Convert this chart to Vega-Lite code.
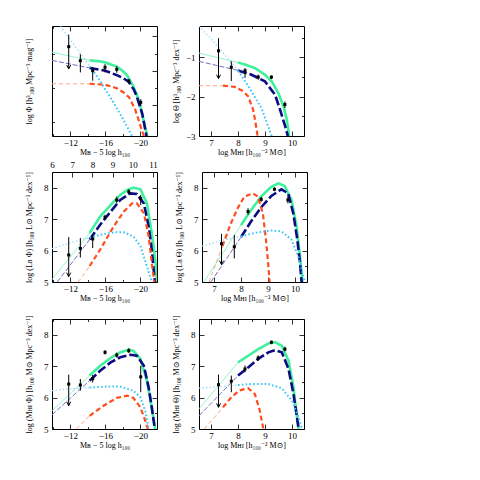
{
"$schema": "https://vega.github.io/schema/vega-lite/v6.json",
"padding": {"left": 24, "top": 25, "right": 5, "bottom": 5},
"background": "white",
"datasets": {
"curves": [
{"p":1,"s":"sum_ext","x":-9.9,"y":-1.46},{"p":1,"s":"sum_ext","x":-14.2,"y":-1.70},
{"p":1,"s":"sum","x":-14.2,"y":-1.70},{"p":1,"s":"sum","x":-15.4,"y":-1.73},{"p":1,"s":"sum","x":-16.0,"y":-1.76},{"p":1,"s":"sum","x":-17.3,"y":-1.88},{"p":1,"s":"sum","x":-18.0,"y":-2.01},{"p":1,"s":"sum","x":-18.5,"y":-2.14},{"p":1,"s":"sum","x":-19.2,"y":-2.46},{"p":1,"s":"sum","x":-19.6,"y":-2.70},{"p":1,"s":"sum","x":-20.0,"y":-3.02},{"p":1,"s":"sum","x":-20.55,"y":-3.65},{"p":1,"s":"sum","x":-20.8,"y":-3.9},
{"p":1,"s":"fit_ext","x":-9.9,"y":-1.70},{"p":1,"s":"fit_ext","x":-14.2,"y":-1.92},
{"p":1,"s":"fit","x":-14.2,"y":-1.92},{"p":1,"s":"fit","x":-16.0,"y":-2.0},{"p":1,"s":"fit","x":-17.3,"y":-2.13},{"p":1,"s":"fit","x":-18.0,"y":-2.21},{"p":1,"s":"fit","x":-18.7,"y":-2.33},{"p":1,"s":"fit","x":-19.25,"y":-2.55},{"p":1,"s":"fit","x":-19.6,"y":-2.76},{"p":1,"s":"fit","x":-20.2,"y":-3.24},{"p":1,"s":"fit","x":-20.7,"y":-3.9},
{"p":1,"s":"peaked_ext","x":-9.9,"y":-2.38},{"p":1,"s":"peaked_ext","x":-14.2,"y":-2.38},
{"p":1,"s":"peaked","x":-14.2,"y":-2.38},{"p":1,"s":"peaked","x":-16.0,"y":-2.41},{"p":1,"s":"peaked","x":-17.3,"y":-2.51},{"p":1,"s":"peaked","x":-18.0,"y":-2.62},{"p":1,"s":"peaked","x":-18.7,"y":-2.77},{"p":1,"s":"peaked","x":-19.4,"y":-3.12},{"p":1,"s":"peaked","x":-20.0,"y":-3.6},{"p":1,"s":"peaked","x":-20.4,"y":-3.9},
{"p":1,"s":"flat_ext","x":-10.86,"y":-0.71},{"p":1,"s":"flat_ext","x":-12.0,"y":-1.1},{"p":1,"s":"flat_ext","x":-13.5,"y":-1.62},{"p":1,"s":"flat_ext","x":-14.2,"y":-1.87},
{"p":1,"s":"flat","x":-14.2,"y":-1.87},{"p":1,"s":"flat","x":-15.0,"y":-2.15},{"p":1,"s":"flat","x":-16.0,"y":-2.55},{"p":1,"s":"flat","x":-16.8,"y":-2.87},{"p":1,"s":"flat","x":-18.0,"y":-3.4},{"p":1,"s":"flat","x":-19.05,"y":-3.9},

{"p":2,"s":"sum_ext","x":6.55,"y":-0.89},{"p":2,"s":"sum_ext","x":8.0,"y":-1.13},
{"p":2,"s":"sum","x":8.0,"y":-1.13},{"p":2,"s":"sum","x":8.3,"y":-1.19},{"p":2,"s":"sum","x":8.625,"y":-1.27},{"p":2,"s":"sum","x":9.0,"y":-1.44},{"p":2,"s":"sum","x":9.25,"y":-1.61},{"p":2,"s":"sum","x":9.5,"y":-1.91},{"p":2,"s":"sum","x":9.69,"y":-2.25},{"p":2,"s":"sum","x":9.81,"y":-2.58},{"p":2,"s":"sum","x":9.9,"y":-3.0},
{"p":2,"s":"fit_ext","x":6.55,"y":-1.10},{"p":2,"s":"fit_ext","x":8.0,"y":-1.33},
{"p":2,"s":"fit","x":8.0,"y":-1.33},{"p":2,"s":"fit","x":8.5,"y":-1.44},{"p":2,"s":"fit","x":9.0,"y":-1.61},{"p":2,"s":"fit","x":9.375,"y":-1.95},{"p":2,"s":"fit","x":9.56,"y":-2.33},{"p":2,"s":"fit","x":9.75,"y":-2.75},{"p":2,"s":"fit","x":9.85,"y":-3.0},
{"p":2,"s":"peaked_ext","x":6.55,"y":-1.72},{"p":2,"s":"peaked_ext","x":7.44,"y":-1.72},
{"p":2,"s":"peaked","x":7.44,"y":-1.72},{"p":2,"s":"peaked","x":7.875,"y":-1.75},{"p":2,"s":"peaked","x":8.19,"y":-1.86},{"p":2,"s":"peaked","x":8.375,"y":-1.99},{"p":2,"s":"peaked","x":8.56,"y":-2.33},{"p":2,"s":"peaked","x":8.65,"y":-2.66},{"p":2,"s":"peaked","x":8.725,"y":-3.0},
{"p":2,"s":"flat_ext","x":6.55,"y":-0.2},{"p":2,"s":"flat_ext","x":7.25,"y":-0.72},{"p":2,"s":"flat_ext","x":7.875,"y":-1.23},{"p":2,"s":"flat_ext","x":8.0,"y":-1.34},
{"p":2,"s":"flat","x":8.0,"y":-1.34},{"p":2,"s":"flat","x":8.375,"y":-1.72},{"p":2,"s":"flat","x":8.875,"y":-2.30},{"p":2,"s":"flat","x":9.25,"y":-3.0},

{"p":3,"s":"sum_ext","x":-9.9,"y":5.08},{"p":3,"s":"sum_ext","x":-14.2,"y":6.56},
{"p":3,"s":"sum","x":-14.2,"y":6.56},{"p":3,"s":"sum","x":-15.4,"y":7.08},{"p":3,"s":"sum","x":-16.6,"y":7.45},{"p":3,"s":"sum","x":-17.7,"y":7.77},{"p":3,"s":"sum","x":-18.5,"y":7.93},{"p":3,"s":"sum","x":-19.2,"y":8.0},{"p":3,"s":"sum","x":-20.0,"y":7.95},{"p":3,"s":"sum","x":-20.75,"y":7.5},{"p":3,"s":"sum","x":-21.3,"y":6.56},{"p":3,"s":"sum","x":-21.7,"y":5.72},{"p":3,"s":"sum","x":-21.9,"y":5.0},
{"p":3,"s":"fit_ext","x":-10.5,"y":5.0},{"p":3,"s":"fit_ext","x":-14.2,"y":6.35},
{"p":3,"s":"fit","x":-14.2,"y":6.35},{"p":3,"s":"fit","x":-15.4,"y":6.82},{"p":3,"s":"fit","x":-16.6,"y":7.24},{"p":3,"s":"fit","x":-17.7,"y":7.61},{"p":3,"s":"fit","x":-18.85,"y":7.82},{"p":3,"s":"fit","x":-19.6,"y":7.80},{"p":3,"s":"fit","x":-20.4,"y":7.5},{"p":3,"s":"fit","x":-20.95,"y":6.77},{"p":3,"s":"fit","x":-21.3,"y":6.03},{"p":3,"s":"fit","x":-21.65,"y":5.0},
{"p":3,"s":"peaked_ext","x":-12.9,"y":5.0},{"p":3,"s":"peaked_ext","x":-14.2,"y":5.51},
{"p":3,"s":"peaked","x":-14.2,"y":5.51},{"p":3,"s":"peaked","x":-15.4,"y":6.03},{"p":3,"s":"peaked","x":-16.95,"y":6.77},{"p":3,"s":"peaked","x":-18.1,"y":7.24},{"p":3,"s":"peaked","x":-19.05,"y":7.5},{"p":3,"s":"peaked","x":-19.6,"y":7.5},{"p":3,"s":"peaked","x":-20.4,"y":7.19},{"p":3,"s":"peaked","x":-20.95,"y":6.45},{"p":3,"s":"peaked","x":-21.3,"y":5.61},{"p":3,"s":"peaked","x":-21.6,"y":5.0},
{"p":3,"s":"flat_ext","x":-9.9,"y":6.06},{"p":3,"s":"flat_ext","x":-11.6,"y":6.21},{"p":3,"s":"flat_ext","x":-13.5,"y":6.37},{"p":3,"s":"flat_ext","x":-14.2,"y":6.41},
{"p":3,"s":"flat","x":-14.2,"y":6.41},{"p":3,"s":"flat","x":-15.4,"y":6.5},{"p":3,"s":"flat","x":-16.95,"y":6.58},{"p":3,"s":"flat","x":-18.1,"y":6.58},{"p":3,"s":"flat","x":-19.2,"y":6.45},{"p":3,"s":"flat","x":-20.0,"y":6.14},{"p":3,"s":"flat","x":-20.75,"y":5.5},{"p":3,"s":"flat","x":-21.3,"y":5.0},

{"p":4,"s":"sum_ext","x":6.62,"y":5.0},{"p":4,"s":"sum_ext","x":8.0,"y":6.81},
{"p":4,"s":"sum","x":8.0,"y":6.81},{"p":4,"s":"sum","x":8.375,"y":7.29},{"p":4,"s":"sum","x":8.75,"y":7.72},{"p":4,"s":"sum","x":9.125,"y":8.03},{"p":4,"s":"sum","x":9.4,"y":8.14},{"p":4,"s":"sum","x":9.625,"y":8.05},{"p":4,"s":"sum","x":9.875,"y":7.61},{"p":4,"s":"sum","x":10.06,"y":6.77},{"p":4,"s":"sum","x":10.19,"y":5.82},{"p":4,"s":"sum","x":10.28,"y":5.0},
{"p":4,"s":"fit_ext","x":6.88,"y":5.0},{"p":4,"s":"fit_ext","x":8.0,"y":6.43},
{"p":4,"s":"fit","x":8.0,"y":6.43},{"p":4,"s":"fit","x":8.375,"y":6.93},{"p":4,"s":"fit","x":8.75,"y":7.38},{"p":4,"s":"fit","x":9.125,"y":7.74},{"p":4,"s":"fit","x":9.5,"y":7.95},{"p":4,"s":"fit","x":9.75,"y":7.82},{"p":4,"s":"fit","x":9.94,"y":7.19},{"p":4,"s":"fit","x":10.09,"y":6.35},{"p":4,"s":"fit","x":10.19,"y":5.61},{"p":4,"s":"fit","x":10.25,"y":5.0},
{"p":4,"s":"peaked_ext","x":6.81,"y":5.0},{"p":4,"s":"peaked_ext","x":7.31,"y":6.14},
{"p":4,"s":"peaked","x":7.31,"y":6.14},{"p":4,"s":"peaked","x":7.625,"y":6.87},{"p":4,"s":"peaked","x":7.875,"y":7.35},{"p":4,"s":"peaked","x":8.125,"y":7.72},{"p":4,"s":"peaked","x":8.44,"y":7.82},{"p":4,"s":"peaked","x":8.625,"y":7.72},{"p":4,"s":"peaked","x":8.81,"y":7.19},{"p":4,"s":"peaked","x":8.94,"y":6.24},{"p":4,"s":"peaked","x":9.025,"y":5.4},{"p":4,"s":"peaked","x":9.06,"y":5.0},
{"p":4,"s":"flat_ext","x":6.55,"y":6.14},{"p":4,"s":"flat_ext","x":7.25,"y":6.32},{"p":4,"s":"flat_ext","x":7.875,"y":6.43},{"p":4,"s":"flat_ext","x":8.0,"y":6.45},
{"p":4,"s":"flat","x":8.0,"y":6.45},{"p":4,"s":"flat","x":8.5,"y":6.56},{"p":4,"s":"flat","x":9.125,"y":6.64},{"p":4,"s":"flat","x":9.5,"y":6.61},{"p":4,"s":"flat","x":9.875,"y":6.35},{"p":4,"s":"flat","x":10.125,"y":5.82},{"p":4,"s":"flat","x":10.31,"y":5.19},{"p":4,"s":"flat","x":10.375,"y":5.0},

{"p":5,"s":"sum_ext","x":-9.9,"y":5.58},{"p":5,"s":"sum_ext","x":-14.2,"y":6.70},
{"p":5,"s":"sum","x":-14.2,"y":6.70},{"p":5,"s":"sum","x":-15.4,"y":7.01},{"p":5,"s":"sum","x":-16.6,"y":7.26},{"p":5,"s":"sum","x":-17.7,"y":7.44},{"p":5,"s":"sum","x":-18.7,"y":7.52},{"p":5,"s":"sum","x":-19.2,"y":7.49},{"p":5,"s":"sum","x":-20.0,"y":7.23},{"p":5,"s":"sum","x":-20.75,"y":6.54},{"p":5,"s":"sum","x":-21.3,"y":5.69},{"p":5,"s":"sum","x":-21.7,"y":5.0},
{"p":5,"s":"fit_ext","x":-9.9,"y":5.45},{"p":5,"s":"fit_ext","x":-14.2,"y":6.54},
{"p":5,"s":"fit","x":-14.2,"y":6.54},{"p":5,"s":"fit","x":-15.4,"y":6.85},{"p":5,"s":"fit","x":-16.6,"y":7.12},{"p":5,"s":"fit","x":-17.7,"y":7.28},{"p":5,"s":"fit","x":-18.85,"y":7.36},{"p":5,"s":"fit","x":-19.6,"y":7.33},{"p":5,"s":"fit","x":-20.4,"y":7.01},{"p":5,"s":"fit","x":-20.95,"y":6.32},{"p":5,"s":"fit","x":-21.3,"y":5.69},{"p":5,"s":"fit","x":-21.65,"y":5.0},
{"p":5,"s":"peaked_ext","x":-12.7,"y":5.0},{"p":5,"s":"peaked_ext","x":-14.2,"y":5.42},
{"p":5,"s":"peaked","x":-14.2,"y":5.42},{"p":5,"s":"peaked","x":-15.8,"y":5.74},{"p":5,"s":"peaked","x":-17.3,"y":5.99},{"p":5,"s":"peaked","x":-18.5,"y":6.06},{"p":5,"s":"peaked","x":-19.2,"y":5.99},{"p":5,"s":"peaked","x":-20.0,"y":5.69},{"p":5,"s":"peaked","x":-20.55,"y":5.27},{"p":5,"s":"peaked","x":-20.85,"y":5.0},
{"p":5,"s":"flat_ext","x":-9.9,"y":6.22},{"p":5,"s":"flat_ext","x":-11.6,"y":6.27},{"p":5,"s":"flat_ext","x":-14.2,"y":6.32},
{"p":5,"s":"flat","x":-14.2,"y":6.32},{"p":5,"s":"flat","x":-16.2,"y":6.35},{"p":5,"s":"flat","x":-17.7,"y":6.35},{"p":5,"s":"flat","x":-19.2,"y":6.22},{"p":5,"s":"flat","x":-20.0,"y":6.01},{"p":5,"s":"flat","x":-20.55,"y":5.58},{"p":5,"s":"flat","x":-20.95,"y":5.0},

{"p":6,"s":"sum_ext","x":6.55,"y":5.64},{"p":6,"s":"sum_ext","x":8.0,"y":7.12},
{"p":6,"s":"sum","x":8.0,"y":7.12},{"p":6,"s":"sum","x":8.375,"y":7.33},{"p":6,"s":"sum","x":8.75,"y":7.54},{"p":6,"s":"sum","x":9.125,"y":7.72},{"p":6,"s":"sum","x":9.375,"y":7.76},{"p":6,"s":"sum","x":9.625,"y":7.65},{"p":6,"s":"sum","x":9.875,"y":7.17},{"p":6,"s":"sum","x":10.06,"y":6.32},{"p":6,"s":"sum","x":10.16,"y":5.58},{"p":6,"s":"sum","x":10.25,"y":5.0},
{"p":6,"s":"fit_ext","x":6.55,"y":5.42},{"p":6,"s":"fit_ext","x":8.0,"y":6.70},
{"p":6,"s":"fit","x":8.0,"y":6.70},{"p":6,"s":"fit","x":8.375,"y":6.96},{"p":6,"s":"fit","x":8.75,"y":7.23},{"p":6,"s":"fit","x":9.125,"y":7.44},{"p":6,"s":"fit","x":9.375,"y":7.51},{"p":6,"s":"fit","x":9.625,"y":7.44},{"p":6,"s":"fit","x":9.875,"y":6.91},{"p":6,"s":"fit","x":10.06,"y":6.11},{"p":6,"s":"fit","x":10.19,"y":5.37},{"p":6,"s":"fit","x":10.25,"y":5.0},
{"p":6,"s":"peaked_ext","x":6.75,"y":5.0},{"p":6,"s":"peaked_ext","x":7.44,"y":5.69},
{"p":6,"s":"peaked","x":7.44,"y":5.69},{"p":6,"s":"peaked","x":7.75,"y":6.01},{"p":6,"s":"peaked","x":8.06,"y":6.23},{"p":6,"s":"peaked","x":8.375,"y":6.30},{"p":6,"s":"peaked","x":8.625,"y":6.11},{"p":6,"s":"peaked","x":8.81,"y":5.58},{"p":6,"s":"peaked","x":8.94,"y":5.0},
{"p":6,"s":"flat_ext","x":6.55,"y":6.30},{"p":6,"s":"flat_ext","x":7.25,"y":6.34},{"p":6,"s":"flat_ext","x":8.0,"y":6.40},
{"p":6,"s":"flat","x":8.0,"y":6.40},{"p":6,"s":"flat","x":8.5,"y":6.43},{"p":6,"s":"flat","x":9.125,"y":6.43},{"p":6,"s":"flat","x":9.625,"y":6.30},{"p":6,"s":"flat","x":10.0,"y":5.90},{"p":6,"s":"flat","x":10.25,"y":5.37},{"p":6,"s":"flat","x":10.375,"y":5.0}
],
"points": [
{"p":1,"x":-11.81,"y":-1.30,"lo":-1.95,"hi":-0.95,"ul":true},
{"p":1,"x":-13.14,"y":-1.71,"lo":-2.05,"hi":-1.52,"ul":false},
{"p":1,"x":-14.55,"y":-2.0,"lo":-2.29,"hi":-1.89,"ul":false},
{"p":1,"x":-15.96,"y":-1.90,"lo":-2.05,"hi":-1.81,"ul":false},
{"p":1,"x":-17.30,"y":-1.96,"lo":-2.06,"hi":-1.87,"ul":false},
{"p":1,"x":-18.67,"y":-2.30,"lo":-2.38,"hi":-2.24,"ul":false},
{"p":1,"x":-20.04,"y":-2.92,"lo":-3.02,"hi":-2.83,"ul":false},
{"p":2,"x":7.275,"y":-0.83,"lo":-1.54,"hi":-0.51,"ul":true},
{"p":2,"x":7.75,"y":-1.25,"lo":-1.60,"hi":-1.10,"ul":false},
{"p":2,"x":8.26,"y":-1.34,"lo":-1.52,"hi":-1.27,"ul":false},
{"p":2,"x":8.75,"y":-1.50,"lo":-1.57,"hi":-1.44,"ul":false},
{"p":2,"x":9.24,"y":-1.50,"lo":-1.55,"hi":-1.46,"ul":false},
{"p":2,"x":9.74,"y":-2.20,"lo":-2.29,"hi":-2.12,"ul":false},
{"p":3,"x":-11.81,"y":5.86,"lo":5.17,"hi":6.43,"ul":true},
{"p":3,"x":-13.14,"y":6.07,"lo":5.78,"hi":6.40,"ul":false},
{"p":3,"x":-14.55,"y":6.37,"lo":6.08,"hi":6.51,"ul":false},
{"p":3,"x":-15.96,"y":7.06,"lo":6.99,"hi":7.14,"ul":false},
{"p":3,"x":-17.30,"y":7.61,"lo":7.50,"hi":7.72,"ul":false},
{"p":3,"x":-18.67,"y":7.87,"lo":7.79,"hi":7.95,"ul":false},
{"p":3,"x":-20.04,"y":7.65,"lo":7.45,"hi":7.77,"ul":false},
{"p":4,"x":7.275,"y":6.22,"lo":5.55,"hi":6.53,"ul":true},
{"p":4,"x":7.75,"y":6.12,"lo":5.75,"hi":6.50,"ul":false},
{"p":4,"x":8.26,"y":7.24,"lo":7.14,"hi":7.35,"ul":false},
{"p":4,"x":8.75,"y":7.63,"lo":7.56,"hi":7.71,"ul":false},
{"p":4,"x":9.24,"y":7.95,"lo":7.89,"hi":8.01,"ul":false},
{"p":4,"x":9.74,"y":7.61,"lo":7.50,"hi":7.72,"ul":false},
{"p":5,"x":-11.81,"y":6.43,"lo":5.74,"hi":6.73,"ul":true},
{"p":5,"x":-13.14,"y":6.40,"lo":6.22,"hi":6.59,"ul":false},
{"p":5,"x":-14.55,"y":6.60,"lo":6.48,"hi":6.72,"ul":false},
{"p":5,"x":-15.96,"y":7.44,"lo":7.37,"hi":7.51,"ul":false},
{"p":5,"x":-17.30,"y":7.35,"lo":7.27,"hi":7.43,"ul":false},
{"p":5,"x":-18.67,"y":7.49,"lo":7.42,"hi":7.57,"ul":false},
{"p":5,"x":-20.04,"y":6.66,"lo":6.17,"hi":7.01,"ul":false},
{"p":6,"x":7.275,"y":6.41,"lo":5.69,"hi":6.73,"ul":true},
{"p":6,"x":7.75,"y":6.52,"lo":6.17,"hi":6.70,"ul":false},
{"p":6,"x":8.26,"y":6.91,"lo":6.81,"hi":7.02,"ul":false},
{"p":6,"x":8.75,"y":7.26,"lo":7.17,"hi":7.34,"ul":false},
{"p":6,"x":9.24,"y":7.76,"lo":7.70,"hi":7.81,"ul":false},
{"p":6,"x":9.74,"y":7.54,"lo":7.47,"hi":7.62,"ul":false}
],
"lumaxis": [{"logL": 6}, {"logL": 11.2}]
},
"spacing": 11,
"vconcat": [
{"spacing": 3, "vconcat": [
{"hconcat": [
{"width":105,"height":110,
 "layer":[
  {"data":{"name":"curves"},"transform":[{"filter":"datum.p === 1"}],"mark":{"type":"line","clip":true,"strokeCap":"butt"},
   "encoding":{
    "x":{"field":"x","type":"quantitative","scale":{"domain":[-21.9,-9.9],"reverse":true,"nice":false,"zero":false},"axis":{"orient":"bottom","title":"Mʙ − 5 log h₁₀₀","values":[-20,-18,-16,-14,-12,-10],"format":"d","labelExpr":"datum.value % 4 === 0 ? datum.label : ''","tickSize":{"condition":{"test":"datum.value % 4 === 0","value":-5},"value":-2.5}}},
    "y":{"field":"y","type":"quantitative","scale":{"domain":[-3.9,-0.7],"nice":false,"zero":false},"axis":{"orient":"left","title":"log Φ [h³₁₀₀ Mpc⁻³ mag⁻¹]","values":[-3.5,-3,-2.5,-2,-1.5,-1],"format":"d","labelExpr":"datum.value % 1 === 0 ? datum.label : ''","tickSize":{"condition":{"test":"datum.value % 1 === 0","value":-5},"value":-2.5}}},
    "color":{"field":"s","type":"nominal","legend":null,"scale":{"domain":["sum","sum_ext","fit","fit_ext","peaked","peaked_ext","flat","flat_ext"],"range":["#3ff09c","#86f2c4","#0b0b84","#7070c8","#ff4d1f","#ffa385","#38c6f7","#8fd8fa"]}},
    "strokeDash":{"field":"s","type":"nominal","legend":null,"scale":{"domain":["sum","sum_ext","fit","fit_ext","peaked","peaked_ext","flat","flat_ext"],"range":[[1,0],[1,0],[9,3],[5,2],[5,3],[4,3],[1.6,2.2],[1.4,2.2]]}},
    "strokeWidth":{"field":"s","type":"nominal","legend":null,"scale":{"type":"ordinal","domain":["sum","sum_ext","fit","fit_ext","peaked","peaked_ext","flat","flat_ext"],"range":[2.6,1,2.6,1,2.2,1,2,1.2]}}
   }},
  {"data":{"name":"points"},"transform":[{"filter":"datum.p === 1"}],"mark":{"type":"rule","color":"#000","strokeWidth":1,"clip":true},
   "encoding":{"x":{"field":"x","type":"quantitative","axis":null},"y":{"field":"lo","type":"quantitative","axis":null},"y2":{"field":"hi"}}},
  {"data":{"name":"points"},"transform":[{"filter":"datum.p === 1"}],"mark":{"type":"point","shape":"square","filled":true,"color":"#000","size":9,"opacity":1,"clip":true},
   "encoding":{"x":{"field":"x","type":"quantitative","axis":null},"y":{"field":"y","type":"quantitative","axis":null}}},
  {"data":{"name":"points"},"transform":[{"filter":"datum.p === 1 && datum.ul"}],"mark":{"type":"point","shape":"M-1,-2L0,0L1,-2","filled":false,"color":"#000","strokeWidth":1,"size":16,"opacity":1},
   "encoding":{"x":{"field":"x","type":"quantitative","axis":null},"y":{"field":"lo","type":"quantitative","axis":null}}},
  {"data":{"name":"points"},"transform":[{"filter":"datum.p === 1"}],"mark":{"type":"point","opacity":0},
   "encoding":{"x":{"field":"x","type":"quantitative","axis":{"orient":"top","title":null,"labels":false,"minExtent":0,"maxExtent":0,"values":[-20,-18,-16,-14,-12,-10],"tickSize":{"condition":{"test":"datum.value % 4 === 0","value":-5},"value":-2.5}}},
    "y":{"field":"y","type":"quantitative","axis":{"orient":"right","title":null,"labels":false,"minExtent":0,"maxExtent":0,"values":[-3.5,-3,-2.5,-2,-1.5,-1],"tickSize":{"condition":{"test":"datum.value % 1 === 0","value":-5},"value":-2.5}}}}}
 ],
 "resolve":{"axis":{"x":"independent","y":"independent"}}},
{"width":105,"height":110,
 "layer":[
  {"data":{"name":"curves"},"transform":[{"filter":"datum.p === 2"}],"mark":{"type":"line","clip":true,"strokeCap":"butt"},
   "encoding":{
    "x":{"field":"x","type":"quantitative","scale":{"domain":[6.55,10.45],"nice":false,"zero":false},"axis":{"orient":"bottom","title":"log Mʜɪ [h₁₀₀⁻² M⊙]","values":[7,7.5,8,8.5,9,9.5,10],"format":"d","labelExpr":"datum.value % 1 === 0 ? datum.label : ''","tickSize":{"condition":{"test":"datum.value % 1 === 0","value":-5},"value":-2.5}}},
    "y":{"field":"y","type":"quantitative","scale":{"domain":[-3,-0.2],"nice":false,"zero":false},"axis":{"orient":"left","title":"log Θ [h³₁₀₀ Mpc⁻³ dex⁻¹]","values":[-3,-2.5,-2,-1.5,-1,-0.5],"format":"d","labelExpr":"datum.value % 1 === 0 ? datum.label : ''","tickSize":{"condition":{"test":"datum.value % 1 === 0","value":-5},"value":-2.5}}},
    "color":{"field":"s","type":"nominal","legend":null,"scale":{"domain":["sum","sum_ext","fit","fit_ext","peaked","peaked_ext","flat","flat_ext"],"range":["#3ff09c","#86f2c4","#0b0b84","#7070c8","#ff4d1f","#ffa385","#38c6f7","#8fd8fa"]}},
    "strokeDash":{"field":"s","type":"nominal","legend":null,"scale":{"domain":["sum","sum_ext","fit","fit_ext","peaked","peaked_ext","flat","flat_ext"],"range":[[1,0],[1,0],[9,3],[5,2],[5,3],[4,3],[1.6,2.2],[1.4,2.2]]}},
    "strokeWidth":{"field":"s","type":"nominal","legend":null,"scale":{"type":"ordinal","domain":["sum","sum_ext","fit","fit_ext","peaked","peaked_ext","flat","flat_ext"],"range":[2.6,1,2.6,1,2.2,1,2,1.2]}}
   }},
  {"data":{"name":"points"},"transform":[{"filter":"datum.p === 2"}],"mark":{"type":"rule","color":"#000","strokeWidth":1,"clip":true},
   "encoding":{"x":{"field":"x","type":"quantitative","axis":null},"y":{"field":"lo","type":"quantitative","axis":null},"y2":{"field":"hi"}}},
  {"data":{"name":"points"},"transform":[{"filter":"datum.p === 2"}],"mark":{"type":"point","shape":"square","filled":true,"color":"#000","size":9,"opacity":1,"clip":true},
   "encoding":{"x":{"field":"x","type":"quantitative","axis":null},"y":{"field":"y","type":"quantitative","axis":null}}},
  {"data":{"name":"points"},"transform":[{"filter":"datum.p === 2 && datum.ul"}],"mark":{"type":"point","shape":"M-1,-2L0,0L1,-2","filled":false,"color":"#000","strokeWidth":1,"size":16,"opacity":1},
   "encoding":{"x":{"field":"x","type":"quantitative","axis":null},"y":{"field":"lo","type":"quantitative","axis":null}}},
  {"data":{"name":"points"},"transform":[{"filter":"datum.p === 2"}],"mark":{"type":"point","opacity":0},
   "encoding":{"x":{"field":"x","type":"quantitative","axis":{"orient":"top","title":null,"labels":false,"minExtent":0,"maxExtent":0,"values":[7,7.5,8,8.5,9,9.5,10],"tickSize":{"condition":{"test":"datum.value % 1 === 0","value":-5},"value":-2.5}}},
    "y":{"field":"y","type":"quantitative","axis":{"orient":"right","title":null,"labels":false,"minExtent":0,"maxExtent":0,"values":[-3,-2.5,-2,-1.5,-1,-0.5],"tickSize":{"condition":{"test":"datum.value % 1 === 0","value":-5},"value":-2.5}}}}}
 ],
 "resolve":{"axis":{"x":"independent","y":"independent"}}}
], "spacing": 13},
{"hconcat": [
{"width":105,"height":110,
 "layer":[
  {"layer":[
   {"data":{"name":"curves"},"transform":[{"filter":"datum.p === 3"}],"mark":{"type":"line","clip":true,"strokeCap":"butt"},
    "encoding":{
     "x":{"field":"x","type":"quantitative","scale":{"domain":[-21.9,-9.9],"reverse":true,"nice":false,"zero":false},"axis":{"orient":"bottom","title":"Mʙ − 5 log h₁₀₀","values":[-20,-18,-16,-14,-12,-10],"format":"d","labelExpr":"datum.value % 4 === 0 ? datum.label : ''","tickSize":{"condition":{"test":"datum.value % 4 === 0","value":-5},"value":-2.5}}},
     "y":{"field":"y","type":"quantitative","scale":{"domain":[5,8.5],"nice":false,"zero":false},"axis":{"orient":"left","title":"log (Lʙ Φ) [h₁₀₀ L⊙ Mpc⁻³ dex⁻¹]","values":[5,5.5,6,6.5,7,7.5,8,8.5],"format":"d","labelExpr":"datum.value % 1 === 0 ? datum.label : ''","tickSize":{"condition":{"test":"datum.value % 1 === 0","value":-5},"value":-2.5}}},
     "color":{"field":"s","type":"nominal","legend":null,"scale":{"domain":["sum","sum_ext","fit","fit_ext","peaked","peaked_ext","flat","flat_ext"],"range":["#3ff09c","#86f2c4","#0b0b84","#7070c8","#ff4d1f","#ffa385","#38c6f7","#8fd8fa"]}},
     "strokeDash":{"field":"s","type":"nominal","legend":null,"scale":{"domain":["sum","sum_ext","fit","fit_ext","peaked","peaked_ext","flat","flat_ext"],"range":[[1,0],[1,0],[9,3],[5,2],[5,3],[4,3],[1.6,2.2],[1.4,2.2]]}},
     "strokeWidth":{"field":"s","type":"nominal","legend":null,"scale":{"type":"ordinal","domain":["sum","sum_ext","fit","fit_ext","peaked","peaked_ext","flat","flat_ext"],"range":[2.6,1,2.6,1,2.2,1,2,1.2]}}
    }},
   {"data":{"name":"points"},"transform":[{"filter":"datum.p === 3"}],"mark":{"type":"rule","color":"#000","strokeWidth":1,"clip":true},
    "encoding":{"x":{"field":"x","type":"quantitative","axis":null},"y":{"field":"lo","type":"quantitative","axis":null},"y2":{"field":"hi"}}},
   {"data":{"name":"points"},"transform":[{"filter":"datum.p === 3"}],"mark":{"type":"point","shape":"square","filled":true,"color":"#000","size":9,"opacity":1,"clip":true},
    "encoding":{"x":{"field":"x","type":"quantitative","axis":null},"y":{"field":"y","type":"quantitative","axis":null}}},
   {"data":{"name":"points"},"transform":[{"filter":"datum.p === 3 && datum.ul"}],"mark":{"type":"point","shape":"M-1,-2L0,0L1,-2","filled":false,"color":"#000","strokeWidth":1,"size":16,"opacity":1},
    "encoding":{"x":{"field":"x","type":"quantitative","axis":null},"y":{"field":"lo","type":"quantitative","axis":null}}},
   {"data":{"name":"points"},"transform":[{"filter":"datum.p === 3"}],"mark":{"type":"point","opacity":0},
    "encoding":{"x":{"field":"x","type":"quantitative","axis":null},
     "y":{"field":"y","type":"quantitative","axis":{"orient":"right","title":null,"labels":false,"minExtent":0,"maxExtent":0,"values":[5,5.5,6,6.5,7,7.5,8,8.5],"tickSize":{"condition":{"test":"datum.value % 1 === 0","value":-5},"value":-2.5}}}}}
  ],
  "resolve":{"axis":{"x":"independent","y":"independent"}}},
  {"data":{"name":"lumaxis"},"mark":{"type":"point","opacity":0},
   "encoding":{"x":{"field":"logL","type":"quantitative","scale":{"domain":[6,11.2],"nice":false,"zero":false},"axis":{"orient":"top","title":null,"values":[6,6.5,7,7.5,8,8.5,9,9.5,10,10.5,11],"format":"d","labelExpr":"datum.value % 1 === 0 ? datum.label : ''","tickSize":{"condition":{"test":"datum.value % 1 === 0","value":-5},"value":-2.5}}}}}
 ],
 "resolve":{"scale":{"x":"independent"},"axis":{"x":"independent","y":"independent"}}},
{"width":105,"height":110,
 "layer":[
  {"data":{"name":"curves"},"transform":[{"filter":"datum.p === 4"}],"mark":{"type":"line","clip":true,"strokeCap":"butt"},
   "encoding":{
    "x":{"field":"x","type":"quantitative","scale":{"domain":[6.55,10.45],"nice":false,"zero":false},"axis":{"orient":"bottom","title":"log Mʜɪ [h₁₀₀⁻² M⊙]","values":[7,7.5,8,8.5,9,9.5,10],"format":"d","labelExpr":"datum.value % 1 === 0 ? datum.label : ''","tickSize":{"condition":{"test":"datum.value % 1 === 0","value":-5},"value":-2.5}}},
    "y":{"field":"y","type":"quantitative","scale":{"domain":[5,8.5],"nice":false,"zero":false},"axis":{"orient":"left","title":"log (Lʙ Θ) [h₁₀₀ L⊙ Mpc⁻³ dex⁻¹]","values":[5,5.5,6,6.5,7,7.5,8,8.5],"format":"d","labelExpr":"datum.value % 1 === 0 ? datum.label : ''","tickSize":{"condition":{"test":"datum.value % 1 === 0","value":-5},"value":-2.5}}},
    "color":{"field":"s","type":"nominal","legend":null,"scale":{"domain":["sum","sum_ext","fit","fit_ext","peaked","peaked_ext","flat","flat_ext"],"range":["#3ff09c","#86f2c4","#0b0b84","#7070c8","#ff4d1f","#ffa385","#38c6f7","#8fd8fa"]}},
    "strokeDash":{"field":"s","type":"nominal","legend":null,"scale":{"domain":["sum","sum_ext","fit","fit_ext","peaked","peaked_ext","flat","flat_ext"],"range":[[1,0],[1,0],[9,3],[5,2],[5,3],[4,3],[1.6,2.2],[1.4,2.2]]}},
    "strokeWidth":{"field":"s","type":"nominal","legend":null,"scale":{"type":"ordinal","domain":["sum","sum_ext","fit","fit_ext","peaked","peaked_ext","flat","flat_ext"],"range":[2.6,1,2.6,1,2.2,1,2,1.2]}}
   }},
  {"data":{"name":"points"},"transform":[{"filter":"datum.p === 4"}],"mark":{"type":"rule","color":"#000","strokeWidth":1,"clip":true},
   "encoding":{"x":{"field":"x","type":"quantitative","axis":null},"y":{"field":"lo","type":"quantitative","axis":null},"y2":{"field":"hi"}}},
  {"data":{"name":"points"},"transform":[{"filter":"datum.p === 4"}],"mark":{"type":"point","shape":"square","filled":true,"color":"#000","size":9,"opacity":1,"clip":true},
   "encoding":{"x":{"field":"x","type":"quantitative","axis":null},"y":{"field":"y","type":"quantitative","axis":null}}},
  {"data":{"name":"points"},"transform":[{"filter":"datum.p === 4 && datum.ul"}],"mark":{"type":"point","shape":"M-1,-2L0,0L1,-2","filled":false,"color":"#000","strokeWidth":1,"size":16,"opacity":1},
   "encoding":{"x":{"field":"x","type":"quantitative","axis":null},"y":{"field":"lo","type":"quantitative","axis":null}}},
  {"data":{"name":"points"},"transform":[{"filter":"datum.p === 4"}],"mark":{"type":"point","opacity":0},
   "encoding":{"x":{"field":"x","type":"quantitative","axis":{"orient":"top","title":null,"labels":false,"minExtent":0,"maxExtent":0,"values":[7,7.5,8,8.5,9,9.5,10],"tickSize":{"condition":{"test":"datum.value % 1 === 0","value":-5},"value":-2.5}}},
    "y":{"field":"y","type":"quantitative","axis":{"orient":"right","title":null,"labels":false,"minExtent":0,"maxExtent":0,"values":[5,5.5,6,6.5,7,7.5,8,8.5],"tickSize":{"condition":{"test":"datum.value % 1 === 0","value":-5},"value":-2.5}}}}}
 ],
 "resolve":{"axis":{"x":"independent","y":"independent"}}}
], "spacing": 13}
]},
{"hconcat": [
{"width":105,"height":110,
 "layer":[
  {"data":{"name":"curves"},"transform":[{"filter":"datum.p === 5"}],"mark":{"type":"line","clip":true,"strokeCap":"butt"},
   "encoding":{
    "x":{"field":"x","type":"quantitative","scale":{"domain":[-21.9,-9.9],"reverse":true,"nice":false,"zero":false},"axis":{"orient":"bottom","title":"Mʙ − 5 log h₁₀₀","values":[-20,-18,-16,-14,-12,-10],"format":"d","labelExpr":"datum.value % 4 === 0 ? datum.label : ''","tickSize":{"condition":{"test":"datum.value % 4 === 0","value":-5},"value":-2.5}}},
    "y":{"field":"y","type":"quantitative","scale":{"domain":[5,8.5],"nice":false,"zero":false},"axis":{"orient":"left","title":"log (Mʜɪ Φ) [h₁₀₀ M⊙ Mpc⁻³ dex⁻¹]","values":[5,5.5,6,6.5,7,7.5,8,8.5],"format":"d","labelExpr":"datum.value % 1 === 0 ? datum.label : ''","tickSize":{"condition":{"test":"datum.value % 1 === 0","value":-5},"value":-2.5}}},
    "color":{"field":"s","type":"nominal","legend":null,"scale":{"domain":["sum","sum_ext","fit","fit_ext","peaked","peaked_ext","flat","flat_ext"],"range":["#3ff09c","#86f2c4","#0b0b84","#7070c8","#ff4d1f","#ffa385","#38c6f7","#8fd8fa"]}},
    "strokeDash":{"field":"s","type":"nominal","legend":null,"scale":{"domain":["sum","sum_ext","fit","fit_ext","peaked","peaked_ext","flat","flat_ext"],"range":[[1,0],[1,0],[9,3],[5,2],[5,3],[4,3],[1.6,2.2],[1.4,2.2]]}},
    "strokeWidth":{"field":"s","type":"nominal","legend":null,"scale":{"type":"ordinal","domain":["sum","sum_ext","fit","fit_ext","peaked","peaked_ext","flat","flat_ext"],"range":[2.6,1,2.6,1,2.2,1,2,1.2]}}
   }},
  {"data":{"name":"points"},"transform":[{"filter":"datum.p === 5"}],"mark":{"type":"rule","color":"#000","strokeWidth":1,"clip":true},
   "encoding":{"x":{"field":"x","type":"quantitative","axis":null},"y":{"field":"lo","type":"quantitative","axis":null},"y2":{"field":"hi"}}},
  {"data":{"name":"points"},"transform":[{"filter":"datum.p === 5"}],"mark":{"type":"point","shape":"square","filled":true,"color":"#000","size":9,"opacity":1,"clip":true},
   "encoding":{"x":{"field":"x","type":"quantitative","axis":null},"y":{"field":"y","type":"quantitative","axis":null}}},
  {"data":{"name":"points"},"transform":[{"filter":"datum.p === 5 && datum.ul"}],"mark":{"type":"point","shape":"M-1,-2L0,0L1,-2","filled":false,"color":"#000","strokeWidth":1,"size":16,"opacity":1},
   "encoding":{"x":{"field":"x","type":"quantitative","axis":null},"y":{"field":"lo","type":"quantitative","axis":null}}},
  {"data":{"name":"points"},"transform":[{"filter":"datum.p === 5"}],"mark":{"type":"point","opacity":0},
   "encoding":{"x":{"field":"x","type":"quantitative","axis":{"orient":"top","title":null,"labels":false,"minExtent":0,"maxExtent":0,"values":[-20,-18,-16,-14,-12,-10],"tickSize":{"condition":{"test":"datum.value % 4 === 0","value":-5},"value":-2.5}}},
    "y":{"field":"y","type":"quantitative","axis":{"orient":"right","title":null,"labels":false,"minExtent":0,"maxExtent":0,"values":[5,5.5,6,6.5,7,7.5,8,8.5],"tickSize":{"condition":{"test":"datum.value % 1 === 0","value":-5},"value":-2.5}}}}}
 ],
 "resolve":{"axis":{"x":"independent","y":"independent"}}},
{"width":105,"height":110,
 "layer":[
  {"data":{"name":"curves"},"transform":[{"filter":"datum.p === 6"}],"mark":{"type":"line","clip":true,"strokeCap":"butt"},
   "encoding":{
    "x":{"field":"x","type":"quantitative","scale":{"domain":[6.55,10.45],"nice":false,"zero":false},"axis":{"orient":"bottom","title":"log Mʜɪ [h₁₀₀⁻² M⊙]","values":[7,7.5,8,8.5,9,9.5,10],"format":"d","labelExpr":"datum.value % 1 === 0 ? datum.label : ''","tickSize":{"condition":{"test":"datum.value % 1 === 0","value":-5},"value":-2.5}}},
    "y":{"field":"y","type":"quantitative","scale":{"domain":[5,8.5],"nice":false,"zero":false},"axis":{"orient":"left","title":"log (Mʜɪ Θ) [h₁₀₀ M⊙ Mpc⁻³ dex⁻¹]","values":[5,5.5,6,6.5,7,7.5,8,8.5],"format":"d","labelExpr":"datum.value % 1 === 0 ? datum.label : ''","tickSize":{"condition":{"test":"datum.value % 1 === 0","value":-5},"value":-2.5}}},
    "color":{"field":"s","type":"nominal","legend":null,"scale":{"domain":["sum","sum_ext","fit","fit_ext","peaked","peaked_ext","flat","flat_ext"],"range":["#3ff09c","#86f2c4","#0b0b84","#7070c8","#ff4d1f","#ffa385","#38c6f7","#8fd8fa"]}},
    "strokeDash":{"field":"s","type":"nominal","legend":null,"scale":{"domain":["sum","sum_ext","fit","fit_ext","peaked","peaked_ext","flat","flat_ext"],"range":[[1,0],[1,0],[9,3],[5,2],[5,3],[4,3],[1.6,2.2],[1.4,2.2]]}},
    "strokeWidth":{"field":"s","type":"nominal","legend":null,"scale":{"type":"ordinal","domain":["sum","sum_ext","fit","fit_ext","peaked","peaked_ext","flat","flat_ext"],"range":[2.6,1,2.6,1,2.2,1,2,1.2]}}
   }},
  {"data":{"name":"points"},"transform":[{"filter":"datum.p === 6"}],"mark":{"type":"rule","color":"#000","strokeWidth":1,"clip":true},
   "encoding":{"x":{"field":"x","type":"quantitative","axis":null},"y":{"field":"lo","type":"quantitative","axis":null},"y2":{"field":"hi"}}},
  {"data":{"name":"points"},"transform":[{"filter":"datum.p === 6"}],"mark":{"type":"point","shape":"square","filled":true,"color":"#000","size":9,"opacity":1,"clip":true},
   "encoding":{"x":{"field":"x","type":"quantitative","axis":null},"y":{"field":"y","type":"quantitative","axis":null}}},
  {"data":{"name":"points"},"transform":[{"filter":"datum.p === 6 && datum.ul"}],"mark":{"type":"point","shape":"M-1,-2L0,0L1,-2","filled":false,"color":"#000","strokeWidth":1,"size":16,"opacity":1},
   "encoding":{"x":{"field":"x","type":"quantitative","axis":null},"y":{"field":"lo","type":"quantitative","axis":null}}},
  {"data":{"name":"points"},"transform":[{"filter":"datum.p === 6"}],"mark":{"type":"point","opacity":0},
   "encoding":{"x":{"field":"x","type":"quantitative","axis":{"orient":"top","title":null,"labels":false,"minExtent":0,"maxExtent":0,"values":[7,7.5,8,8.5,9,9.5,10],"tickSize":{"condition":{"test":"datum.value % 1 === 0","value":-5},"value":-2.5}}},
    "y":{"field":"y","type":"quantitative","axis":{"orient":"right","title":null,"labels":false,"minExtent":0,"maxExtent":0,"values":[5,5.5,6,6.5,7,7.5,8,8.5],"tickSize":{"condition":{"test":"datum.value % 1 === 0","value":-5},"value":-2.5}}}}}
 ],
 "resolve":{"axis":{"x":"independent","y":"independent"}}}
], "spacing": 13}
],
"config": {
 "view": {"stroke": "#000", "strokeWidth": 1},
 "axis": {"domain": false, "grid": false, "ticks": true, "tickColor": "#000", "tickWidth": 0.8, "labelColor": "#000", "titleColor": "#000", "labelFont": "Liberation Serif, DejaVu Serif", "titleFont": "Liberation Serif, DejaVu Serif", "labelFontSize": 9, "titleFontSize": 8, "titleFontWeight": "normal", "labelFlush": false, "labelOverlap": false},
 "axisX": {"labelPadding": 7.5, "minExtent": 11, "maxExtent": 11, "titlePadding": 1},
 "axisY": {"labelPadding": 9, "minExtent": 17, "maxExtent": 17, "titlePadding": 2}
}
}
